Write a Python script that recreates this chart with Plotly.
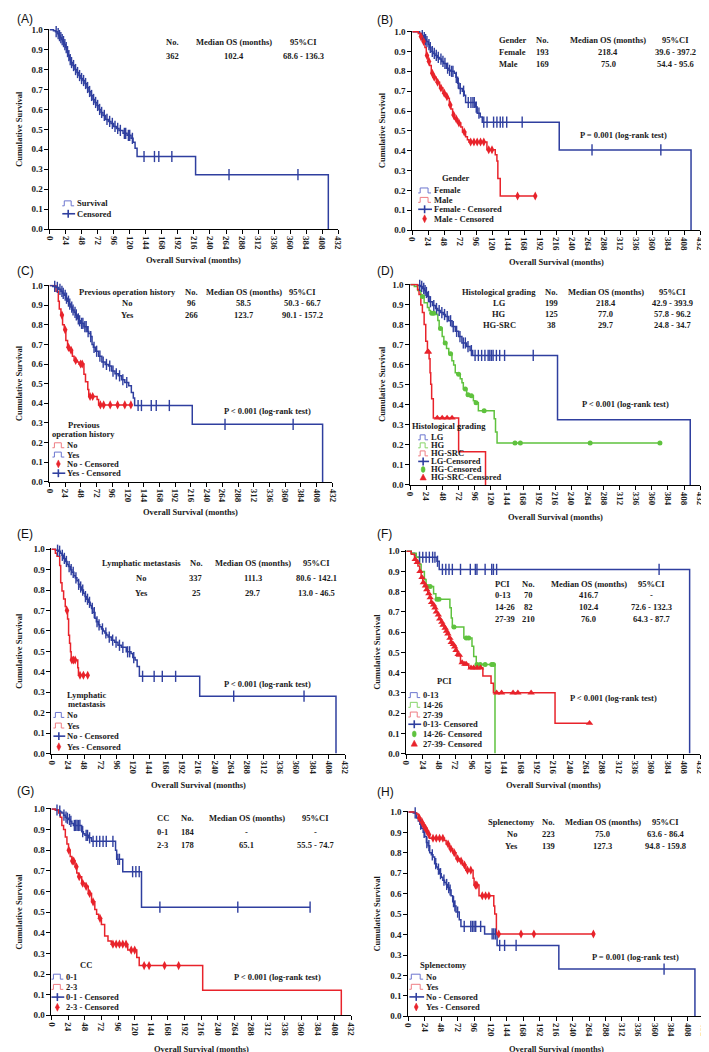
import plotly.graph_objects as go

W, H = 709, 1052
BLUE, RED, GREEN = '#2f3f9f', '#e8232b', '#5fc23e'
LBLUE, LRED, LGREEN = '#6c76cf', '#ee7d83', '#86d468'
SERIF = 'Liberation Serif'

# ---------------- axis ticks ----------------
X_TICKS = [0, 24, 48, 72, 96, 120, 144, 168, 192, 216, 240, 264, 288, 312, 336, 360, 384, 408, 432]
Y_TICKS = [0.0, 0.1, 0.2, 0.3, 0.4, 0.5, 0.6, 0.7, 0.8, 0.9, 1.0]
Y_LABELS = ['0.0', '0.1', '0.2', '0.3', '0.4', '0.5', '0.6', '0.7', '0.8', '0.9', '1.0']

# ---------------- (A) overall ----------------
A_time = [0, 6, 9, 12, 14, 16, 18, 20, 22, 24, 26, 28, 30, 32, 35, 38, 41, 44, 47, 50, 53, 56, 59, 62, 65, 68, 71, 74,
          77, 80, 84, 88, 92, 96, 100, 104, 110, 116, 122, 125, 128, 131, 218.5, 417]
A_surv = [1.0, 0.995, 0.99, 0.98, 0.97, 0.96, 0.95, 0.94, 0.925, 0.91, 0.89, 0.87, 0.85, 0.835, 0.82, 0.80, 0.785, 0.77,
          0.755, 0.745, 0.73, 0.71, 0.69, 0.67, 0.65, 0.635, 0.62, 0.60, 0.585, 0.57, 0.55, 0.54, 0.53, 0.515, 0.505,
          0.495, 0.48, 0.47, 0.455, 0.435, 0.405, 0.364, 0.273, 0.0]
A_cens = [10, 13, 15, 17, 19, 21, 23, 25, 27, 29, 31, 33, 36, 39, 42, 45, 48, 51, 54, 57, 60, 63, 66, 69, 72, 75, 78, 82,
          86, 90, 94, 98, 102, 106, 112, 114, 118, 120, 124, 141.4, 157, 163.5, 183, 268.5, 371.6]

# ---------------- (B) gender ----------------
B_female_time = [0, 11, 14, 17, 19, 21, 24, 26, 28, 31, 34, 38, 41, 44, 47, 51, 55, 58, 63, 65.5, 68, 70, 75, 78, 80,
                 95, 97.4, 102, 105, 220.5, 418.3]
B_female_surv = [1.0, 0.99, 0.98, 0.97, 0.96, 0.95, 0.935, 0.92, 0.90, 0.89, 0.88, 0.87, 0.862, 0.85, 0.84, 0.816,
                 0.805, 0.80, 0.79, 0.77, 0.74, 0.713, 0.70, 0.68, 0.643, 0.62, 0.589, 0.57, 0.544, 0.404, 0.0]
B_female_cens = [15, 18, 20, 22, 25, 27, 30, 33, 36, 39, 43, 46, 49, 53, 56, 59, 61, 66, 69, 72, 77, 84, 88, 91, 93, 96,
                 100, 107.3, 112.2, 122, 127, 132, 135.8, 141.7, 164.9, 269.7, 373]
B_male_time = [0, 9, 12, 14, 16, 19, 21, 23.6, 26, 28.5, 31, 36, 41, 46, 50.7, 54, 55.6, 58, 60.5, 63, 68, 72.8, 75.3,
               80, 82.7, 85, 112, 124.5, 127, 128.4, 132]
B_male_surv = [1.0, 0.99, 0.975, 0.96, 0.95, 0.92, 0.88, 0.85, 0.83, 0.79, 0.77, 0.745, 0.716, 0.69, 0.672, 0.665, 0.63,
               0.61, 0.58, 0.56, 0.54, 0.52, 0.494, 0.47, 0.455, 0.444, 0.405, 0.38, 0.348, 0.26, 0.172]
B_male_cens = [13, 17, 22, 25, 30, 33, 38, 43, 48, 52, 57, 62, 66, 70, 78, 87.6, 92.5, 97.4, 102.4, 107.3, 114.7, 119.6,
               158, 184.5]

# ---------------- (C) previous operation ----------------
C_no_time = [0, 10, 13.5, 15, 17.5, 20, 22.5, 25, 27.6, 30, 35, 37.6, 42.6, 45, 52.6, 55, 58.5, 60, 72.7, 75]
C_no_surv = [1.0, 0.97, 0.92, 0.88, 0.849, 0.80, 0.774, 0.72, 0.685, 0.67, 0.64, 0.618, 0.61, 0.60, 0.548, 0.51, 0.47,
             0.435, 0.42, 0.392]
C_no_cens = [19, 24, 29, 33, 40, 47.6, 50, 62, 66, 77.7, 82.7, 92.7, 104, 115, 124.3]
C_yes_time = [0, 5, 10, 14, 17.5, 20, 22.5, 25, 27.6, 30, 32.6, 35, 37.6, 40, 42.6, 45, 47.6, 52.6, 57.6, 60, 62.6, 65,
              67, 70, 75, 80, 85, 90, 95, 100, 105, 110, 115, 121, 125, 128, 130, 218, 417]
C_yes_surv = [1.0, 0.995, 0.99, 0.98, 0.97, 0.96, 0.95, 0.935, 0.92, 0.905, 0.89, 0.875, 0.863, 0.85, 0.83, 0.82, 0.807,
              0.79, 0.765, 0.755, 0.74, 0.70, 0.685, 0.665, 0.64, 0.61, 0.598, 0.59, 0.564, 0.55, 0.54, 0.52, 0.506,
              0.49, 0.455, 0.427, 0.389, 0.293, 0.0]
C_yes_cens = [8, 12, 16, 19, 21, 24, 26, 29, 31, 34, 36, 39, 41, 44, 46, 49, 51, 54, 56, 59, 63, 68, 72, 77, 82, 87, 92,
              97, 102, 107, 112, 118, 135.3, 140.4, 155.4, 163, 183, 268, 372]

# ---------------- (D) histological grading ----------------
D_lg_time = [0, 10.8, 15, 18, 21, 23, 25.5, 28, 33, 37.7, 41, 45, 49, 52.4, 57.3, 62.2, 67, 72, 76.9, 84, 89, 93,
             219.4, 417.2]
D_lg_surv = [1.0, 0.995, 0.99, 0.98, 0.97, 0.96, 0.94, 0.914, 0.895, 0.88, 0.87, 0.86, 0.85, 0.84, 0.819, 0.79, 0.766,
             0.74, 0.708, 0.69, 0.67, 0.646, 0.325, 0.0]
D_lg_cens = [14, 17, 20, 22, 24, 27, 30, 35, 39, 43, 47, 51, 55, 60, 64, 69, 74, 79, 82, 86, 91, 96.5, 101.4, 106.3,
             111.2, 116, 118.5, 121, 123.4, 128.3, 133.2, 140.5, 183.2]
D_hg_time = [0, 6, 11, 15.7, 20.6, 25.5, 28, 30, 39, 41, 43, 47.5, 50, 54, 57.3, 62, 64.6, 67, 69.5, 74.4, 77, 79, 84,
             89, 94, 96.5, 101.4, 125, 127, 129.3]
D_hg_surv = [1.0, 0.99, 0.97, 0.94, 0.909, 0.885, 0.87, 0.857, 0.85, 0.82, 0.78, 0.74, 0.708, 0.68, 0.654, 0.62, 0.598,
             0.56, 0.552, 0.53, 0.51, 0.478, 0.45, 0.445, 0.42, 0.41, 0.37, 0.33, 0.264, 0.209]
D_hg_cens = [18, 32, 35, 45, 52, 60, 72, 82, 86, 91, 98, 110, 156, 164, 268, 372]
D_src_time = [0, 10.8, 13, 15.7, 18, 20.6, 23, 25.5, 28, 29.4, 30.4, 31.8, 34.3, 72, 112.1]
D_src_surv = [1.0, 0.975, 0.95, 0.898, 0.86, 0.80, 0.717, 0.664, 0.63, 0.56, 0.502, 0.43, 0.334, 0.165, 0.0]
D_src_cens = [26, 27, 40.2, 47.5, 54.8, 62.2]

# ---------------- (E) lymphatic metastasis ----------------
E_no_time = [0, 5.8, 10.7, 13, 15.5, 18, 20.3, 23, 25, 28, 30, 33, 35, 37.5, 39.7, 42, 44.5, 47, 49.4, 52, 54.2, 57, 59,
             61, 64, 66, 68.8, 71, 73.6, 76, 78.5, 81, 83.3, 88, 93, 97.8, 102.7, 110, 117, 119.6, 123, 126, 129.3, 218,
             418.4]
E_no_surv = [1.0, 0.995, 0.99, 0.98, 0.97, 0.955, 0.94, 0.925, 0.915, 0.90, 0.887, 0.87, 0.86, 0.845, 0.828, 0.815,
             0.80, 0.785, 0.768, 0.755, 0.74, 0.725, 0.71, 0.69, 0.662, 0.645, 0.63, 0.62, 0.61, 0.60, 0.59, 0.58, 0.57,
             0.555, 0.545, 0.53, 0.52, 0.498, 0.49, 0.47, 0.458, 0.426, 0.378, 0.281, 0.0]
E_no_cens = [9, 12, 16, 19, 22, 26, 29, 32, 36, 40, 43, 46, 50, 53, 56, 60, 63, 67, 70, 75, 80, 85, 90, 95, 100, 105,
             112, 115, 121, 134, 151, 163, 182.6, 268, 371.4]
E_yes_time = [0, 5.8, 8.2, 12.1, 13.6, 15.5, 17.9, 20.3, 21.8, 23.7, 25.2, 26.6, 28, 29, 38.7, 39.7]
E_yes_surv = [1.0, 0.98, 0.965, 0.92, 0.836, 0.796, 0.756, 0.72, 0.70, 0.659, 0.579, 0.54, 0.498, 0.458, 0.42, 0.383]
E_yes_cens = [22.8, 30, 32.4, 34.9, 42, 47, 53.3]

# ---------------- (F) PCI ----------------
F_low_time = [0, 7.2, 12, 14.5, 45, 48.3, 416.5]
F_low_surv = [1.0, 0.99, 0.98, 0.97, 0.95, 0.91, 0.0]
F_low_cens = [19.3, 24.1, 29, 33.8, 38.6, 42, 45.8, 53, 58, 62.7, 67.6, 79.6, 94, 101.4, 103.8, 115.8, 125.5, 128,
              132.7, 371.6]
F_mid_time = [0, 7.2, 14.5, 19.3, 21.7, 26.5, 29, 40, 43.4, 64, 66, 67.6, 84.5, 96.5, 99, 102.8, 130.3]
F_mid_surv = [1.0, 0.99, 0.97, 0.935, 0.90, 0.86, 0.825, 0.79, 0.763, 0.72, 0.67, 0.625, 0.571, 0.53, 0.48, 0.44, 0.0]
F_mid_cens = [31, 35, 45, 48, 70, 88, 91.7, 103.8, 108.6, 115.8, 125.5, 128]
F_high_time = [0, 7.2, 12, 14.5, 17, 19.5, 21.7, 24, 26.5, 29, 31.4, 34, 36.2, 38.5, 41, 43.5, 45.8, 48, 50.7, 53, 55.5,
               58, 60.3, 62.5, 65, 67.5, 70, 72.5, 74.8, 77.2, 79.6, 84.5, 91.7, 112.5, 124.5, 128, 218.6]
F_high_surv = [1.0, 0.985, 0.96, 0.945, 0.927, 0.90, 0.87, 0.845, 0.829, 0.81, 0.79, 0.77, 0.747, 0.735, 0.72, 0.70,
               0.685, 0.665, 0.649, 0.635, 0.62, 0.605, 0.592, 0.57, 0.55, 0.54, 0.527, 0.51, 0.49, 0.486, 0.45, 0.442,
               0.424, 0.383, 0.347, 0.30, 0.15]
F_high_cens = [13, 16, 20, 23, 25, 28, 30, 33, 35, 37, 40, 42, 44, 47, 49, 52, 54, 57, 59, 61, 64, 66, 69, 71, 73, 76,
               78, 82, 86, 88, 95, 99, 104, 109, 132.7, 140, 156.9, 164, 183.4, 269.3]

# ---------------- (G) CC ----------------
G_01_time = [0, 5.7, 10.4, 13, 15, 17.5, 19.9, 22, 24.6, 27, 29.4, 31.7, 43.6, 46, 48.3, 53, 57.8, 92.4, 94, 102.8,
             129.8]
G_01_surv = [1.0, 0.995, 0.99, 0.985, 0.98, 0.97, 0.96, 0.955, 0.949, 0.94, 0.93, 0.92, 0.89, 0.88, 0.872, 0.86, 0.843,
             0.80, 0.756, 0.696, 0.524]
G_01_cens = [8, 12, 18, 21, 23, 26, 28, 33, 35, 37, 39, 41, 45, 50, 52, 55, 60, 65, 69.6, 74.4, 79, 88.6, 95.7, 98, 117,
             121.7, 126.5, 156.3, 268.6, 372.8]
G_23_time = [0, 5.7, 10.4, 12.8, 15, 17.5, 20, 22.3, 24.6, 27, 29.4, 34, 36.5, 38.8, 43.6, 48.3, 53, 57.8, 62.5, 65.1,
             68, 72, 76.7, 81.5, 86.2, 110, 123, 126.5, 218, 417.8]
G_23_surv = [1.0, 0.995, 0.98, 0.96, 0.92, 0.90, 0.864, 0.83, 0.80, 0.77, 0.748, 0.72, 0.69, 0.672, 0.64, 0.625, 0.59,
             0.55, 0.513, 0.49, 0.47, 0.44, 0.385, 0.36, 0.345, 0.316, 0.28, 0.241, 0.121, 0.0]
G_23_cens = [25, 30, 32, 36, 40, 45, 50, 55, 60, 70, 88.6, 93.3, 98, 102.8, 107.5, 115, 120, 133.6, 140.7, 163, 183.3]

# ---------------- (H) splenectomy ----------------
H_no_time = [0, 7.2, 12, 14.5, 16.8, 19, 21.6, 24, 26.4, 28.8, 31.2, 33.5, 36, 38.4, 41, 43.2, 45.6, 48, 50.4, 53,
             55.2, 57.5, 60, 62.4, 64.8, 67.2, 69.6, 74.4, 76.8, 111.4, 129.6, 219.8, 418.6]
H_no_surv = [1.0, 0.995, 0.97, 0.955, 0.94, 0.92, 0.90, 0.88, 0.85, 0.835, 0.80, 0.79, 0.78, 0.747, 0.73, 0.72, 0.698,
             0.68, 0.666, 0.655, 0.645, 0.63, 0.618, 0.59, 0.561, 0.54, 0.51, 0.473, 0.44, 0.403, 0.347, 0.231, 0.0]
H_no_cens = [10, 18, 23, 27, 30, 35, 40, 44, 47, 52, 56, 59, 61, 66, 68, 72, 81.6, 91.2, 93.6, 96, 98.4, 105.6, 122.4,
             124.8, 127.2, 133.4, 140.6, 157.4, 373.5]
H_yes_time = [0, 9.6, 12, 14.4, 18.2, 21.6, 24, 26.4, 28.8, 31.2, 52.8, 55.2, 60, 64.8, 69.6, 74.4, 79.2, 84, 94.6, 96,
              103.2, 124.8, 126.2, 128.6]
H_yes_surv = [1.0, 0.995, 0.99, 0.97, 0.95, 0.93, 0.92, 0.908, 0.89, 0.871, 0.86, 0.843, 0.82, 0.80, 0.771, 0.76, 0.74,
              0.715, 0.675, 0.642, 0.59, 0.54, 0.50, 0.403]
H_yes_cens = [16, 20, 23, 25, 27, 30, 36, 40.8, 45.6, 50.4, 58, 62, 67, 72, 77, 82, 86.4, 91.2, 98, 100, 108, 112.8,
              117.6, 132, 164.6, 183.4, 270.3]

# ---------------- tables ----------------
A_header = ['No.', 'Median OS (months)', '95%CI']
A_rows = [['362', '102.4', '68.6 - 136.3']]
B_header = ['Gender', 'No.', 'Median OS (months)', '95%CI']
B_rows = [['Female', '193', '218.4', '39.6 - 397.2'], ['Male', '169', '75.0', '54.4 - 95.6']]
C_header = ['Previous operation history', 'No.', 'Median OS (months)', '95%CI']
C_rows = [['No', '96', '58.5', '50.3 - 66.7'], ['Yes', '266', '123.7', '90.1 - 157.2']]
D_header = ['Histological grading', 'No.', 'Median OS (months)', '95%CI']
D_rows = [['LG', '199', '218.4', '42.9 - 393.9'], ['HG', '125', '77.0', '57.8 - 96.2'],
          ['HG-SRC', '38', '29.7', '24.8 - 34.7']]
E_header = ['Lymphatic metastasis', 'No.', 'Median OS (months)', '95%CI']
E_rows = [['No', '337', '111.3', '80.6 - 142.1'], ['Yes', '25', '29.7', '13.0 - 46.5']]
F_header = ['PCI', 'No.', 'Median OS (months)', '95%CI']
F_rows = [['0-13', '70', '416.7', '-'], ['14-26', '82', '102.4', '72.6 - 132.3'], ['27-39', '210', '76.0', '64.3 - 87.7']]
G_header = ['CC', 'No.', 'Median OS (months)', '95%CI']
G_rows = [['0-1', '184', '-', '-'], ['2-3', '178', '65.1', '55.5 - 74.7']]
H_header = ['Splenectomy', 'No.', 'Median OS (months)', '95%CI']
H_rows = [['No', '223', '75.0', '63.6 - 86.4'], ['Yes', '139', '127.3', '94.8 - 159.8']]

P_texts = {'B': 'P = 0.001 (log-rank test)', 'C': 'P < 0.001 (log-rank test)', 'D': 'P < 0.001 (log-rank test)',
           'E': 'P < 0.001 (log-rank test)', 'F': 'P < 0.001 (log-rank test)', 'G': 'P < 0.001 (log-rank test)',
           'H': 'P = 0.001 (log-rank test)'}


def surv_at(times, survs, t):
    v = survs[0]
    for ti, si in zip(times, survs):
        if ti <= t:
            v = si
    return v


# marker styles
MK = {
    'plus': dict(symbol='line-ns-open', size=8, color=BLUE, line=dict(color=BLUE, width=1.4)),
    'diamond': dict(symbol='diamond-tall', size=6.5, color=RED, line=dict(width=0)),
    'circle': dict(symbol='circle', size=5, color=GREEN, line=dict(width=0)),
    'triangle': dict(symbol='triangle-up', size=6.5, color=RED, line=dict(width=0)),
}
LIGHT = {BLUE: LBLUE, RED: LRED, GREEN: LGREEN}

# panel layout (pixel boxes: x0, x1, ytop, ybottom)
panels = [
    dict(key='A', box=(37, 330, 17, 219), label_xy=(2, 7), ytitle_x=6, xtitle_y=250,
         curves=[('Survival', A_time, A_surv, A_cens, BLUE, 'plus')],
         legend=dict(icon_x=50, text_x=63, y0=193, dy=10.5, title=[], title_x=0, title_y=[]),
         leg_items=[('Survival', BLUE, 'line'), ('Censored', BLUE, 'plus')],
         header=A_header, rows=A_rows, cols=[(162, 'center'), (224, 'center'), (295, 'center')], hy=30, ry=[44],
         p=None),
    dict(key='B', box=(405, 697, 19, 220), label_xy=(367, 8), ytitle_x=375, xtitle_y=252,
         curves=[('Female', B_female_time, B_female_surv, B_female_cens, BLUE, 'plus'),
                 ('Male', B_male_time, B_male_surv, B_male_cens, RED, 'diamond')],
         legend=dict(icon_x=411, text_x=425, y0=180, dy=9.5, title=['Gender'], title_x=449, title_y=[167]),
         leg_items=[('Female', BLUE, 'line'), ('Male', RED, 'line'), ('Female - Censored', BLUE, 'plus'),
                    ('Male - Censored', RED, 'diamond')],
         header=B_header, rows=B_rows, cols=[(491, 'left'), (537, 'center'), (604, 'center'), (672, 'center')],
         hy=28, ry=[40, 52], p=(619, 124)),
    dict(key='C', box=(37, 324, 275, 474), label_xy=(2, 261), ytitle_x=6, xtitle_y=504,
         curves=[('No', C_no_time, C_no_surv, C_no_cens, RED, 'diamond'),
                 ('Yes', C_yes_time, C_yes_surv, C_yes_cens, BLUE, 'plus')],
         legend=dict(icon_x=40, text_x=53, y0=437, dy=9.4, title=['Previous', 'operation history'], title_x=72,
                     title_y=[417, 426]),
         leg_items=[('No', RED, 'line'), ('Yes', BLUE, 'line'), ('No - Censored', RED, 'diamond'),
                    ('Yes - Censored', BLUE, 'plus')],
         header=C_header, rows=C_rows, cols=[(116, 'center'), (181, 'center'), (234, 'center'), (294, 'center')],
         hy=282, ry=[294, 306], p=(258, 402)),
    dict(key='D', box=(403, 697, 274, 477), label_xy=(367, 261), ytitle_x=375, xtitle_y=509,
         curves=[('LG', D_lg_time, D_lg_surv, D_lg_cens, BLUE, 'plus'),
                 ('HG', D_hg_time, D_hg_surv, D_hg_cens, GREEN, 'circle'),
                 ('HG-SRC', D_src_time, D_src_surv, D_src_cens, RED, 'triangle')],
         legend=dict(icon_x=411, text_x=422, y0=429, dy=8.1, title=['Histological grading'], title_x=442,
                     title_y=[418]),
         leg_items=[('LG', BLUE, 'line'), ('HG', GREEN, 'line'), ('HG-SRC', RED, 'line'),
                    ('LG-Censored', BLUE, 'plus'), ('HG-Censored', GREEN, 'circle'),
                    ('HG-SRC-Censored', RED, 'triangle')],
         header=D_header, rows=D_rows, cols=[(493, 'center'), (546, 'center'), (601, 'center'), (669, 'center')],
         hy=282, ry=[294, 305, 316], p=(621, 395)),
    dict(key='E', box=(39, 337, 541, 748), label_xy=(2, 526), ytitle_x=6, xtitle_y=780,
         curves=[('No', E_no_time, E_no_surv, E_no_cens, BLUE, 'plus'),
                 ('Yes', E_yes_time, E_yes_surv, E_yes_cens, RED, 'diamond')],
         legend=dict(icon_x=41, text_x=53, y0=709, dy=10.7, title=['Lymphatic', 'metastasis'], title_x=75,
                     title_y=[689, 698]),
         leg_items=[('No', BLUE, 'line'), ('Yes', RED, 'line'), ('No - Censored', BLUE, 'plus'),
                    ('Yes - Censored', RED, 'diamond')],
         header=E_header, rows=E_rows, cols=[(130, 'center'), (186, 'center'), (243, 'center'), (308, 'center')],
         hy=556, ry=[571, 586], p=(258, 678)),
    dict(key='F', box=(399, 697, 543, 748), label_xy=(367, 526), ytitle_x=369, xtitle_y=780,
         curves=[('0-13', F_low_time, F_low_surv, F_low_cens, BLUE, 'plus'),
                 ('14-26', F_mid_time, F_mid_surv, F_mid_cens, GREEN, 'circle'),
                 ('27-39', F_high_time, F_high_surv, F_high_cens, RED, 'triangle')],
         legend=dict(icon_x=401, text_x=414, y0=689, dy=9.8, title=['PCI'], title_x=438, title_y=[675]),
         leg_items=[('0-13', BLUE, 'line'), ('14-26', GREEN, 'line'), ('27-39', RED, 'line'),
                    ('0-13- Censored', BLUE, 'plus'), ('14-26- Censored', GREEN, 'circle'),
                    ('27-39- Censored', RED, 'triangle')],
         header=F_header, rows=F_rows, cols=[(487, 'left'), (523, 'center'), (584, 'center'), (648, 'center')],
         hy=577, ry=[588, 600, 612], p=(609, 692)),
    dict(key='G', box=(39, 343, 803, 1012), label_xy=(2, 786), ytitle_x=6, xtitle_y=1046,
         curves=[('0-1', G_01_time, G_01_surv, G_01_cens, BLUE, 'plus'),
                 ('2-3', G_23_time, G_23_surv, G_23_cens, RED, 'diamond')],
         legend=dict(icon_x=39, text_x=52, y0=973, dy=10.3, title=['CC'], title_x=74, title_y=[961]),
         leg_items=[('0-1', BLUE, 'line'), ('2-3', RED, 'line'), ('0-1 - Censored', BLUE, 'plus'),
                    ('2-3 - Censored', RED, 'diamond')],
         header=G_header, rows=G_rows, cols=[(152, 'center'), (177, 'center'), (237, 'center'), (307, 'center')],
         hy=813, ry=[827, 840], p=(268, 973)),
    dict(key='H', box=(401, 701, 806, 1013), label_xy=(367, 787), ytitle_x=369, xtitle_y=1046,
         curves=[('No', H_no_time, H_no_surv, H_no_cens, BLUE, 'plus'),
                 ('Yes', H_yes_time, H_yes_surv, H_yes_cens, RED, 'diamond')],
         legend=dict(icon_x=402, text_x=417, y0=973, dy=10.2, title=['Splenectomy'], title_x=437, title_y=[961]),
         leg_items=[('No', BLUE, 'line'), ('Yes', RED, 'line'), ('No - Censored', BLUE, 'plus'),
                    ('Yes - Censored', RED, 'diamond')],
         header=H_header, rows=H_rows, cols=[(506, 'center'), (543, 'center'), (598, 'center'), (662, 'center')],
         hy=817, ry=[829, 841], p=(631, 953)),
]


def px(x):
    return x / W


def py(y):
    return 1 - y / H


fig = go.Figure()
annotations = []
shapes = []
TXT = dict(family=SERIF, size=8.5, color='#1a1a1a', weight='bold')
TICK = dict(family=SERIF, size=9, color='#1a1a1a', weight='bold')


def ann(x, y, text, xanchor='center', font=None, angle=0):
    annotations.append(dict(x=px(x), y=py(y), xref='paper', yref='paper', text=text, showarrow=False,
                            xanchor=xanchor, yanchor='middle', font=font or TXT, textangle=angle))


for i, p in enumerate(panels):
    n = '' if i == 0 else str(i + 1)
    xa, ya = 'x' + n, 'y' + n
    x0, x1, yt, yb = p['box']
    fig.update_layout(**{
        'xaxis' + n: dict(domain=[px(x0), px(x1)], anchor=ya, range=[0, 432], tickvals=X_TICKS,
                          ticktext=[str(v) for v in X_TICKS], tickangle=90, ticks='outside', ticklen=4,
                          tickwidth=1, tickcolor='black', showline=True, linecolor='black', linewidth=1,
                          showgrid=False, zeroline=False, tickfont=TICK, fixedrange=True),
        'yaxis' + n: dict(domain=[py(yb), py(yt)], anchor=xa, range=[0, 1.004], tickvals=Y_TICKS,
                          ticktext=Y_LABELS, ticks='outside', ticklen=4, tickwidth=1, tickcolor='black',
                          showline=True, linecolor='black', linewidth=1, showgrid=False, zeroline=False,
                          tickfont=TICK, fixedrange=True),
    })
    # curves
    for name, t, s, c, col, mk in p['curves']:
        tx, sy = list(t), list(s)
        if c and max(c) > tx[-1] and sy[-1] > 0:
            tx.append(max(c))
            sy.append(sy[-1])
        fig.add_trace(go.Scatter(x=tx, y=sy, mode='lines', line=dict(color=col, width=1.5, shape='hv'),
                                 xaxis=xa, yaxis=ya, showlegend=False, name=name, hoverinfo='skip'))
    for name, t, s, c, col, mk in p['curves']:
        cy = [surv_at(t, s, v) for v in c]
        fig.add_trace(go.Scatter(x=c, y=cy, mode='markers', marker=MK[mk], xaxis=xa, yaxis=ya,
                                 showlegend=False, name=name + ' - Censored', cliponaxis=False, hoverinfo='skip'))
    # panel label
    ann(p['label_xy'][0], p['label_xy'][1], '(' + p['key'] + ')', xanchor='left',
        font=dict(family='Liberation Sans', size=12, color='#111'))
    # axis titles
    ann(p['ytitle_x'], (yt + yb) / 2, 'Cumulative Survival', angle=-90)
    ann((x0 + x1) / 2, p['xtitle_y'], 'Overall Survival (months)')
    # table
    for (cx, al), htxt in zip(p['cols'][-len(p['header']):], p['header']):
        ann(cx, p['hy'], htxt, xanchor=al)
    for ry, row in zip(p['ry'], p['rows']):
        for (cx, al), cell in zip(p['cols'][-len(row):], row):
            ann(cx, ry, cell, xanchor=al)
    if p['p']:
        ann(p['p'][0], p['p'][1], P_texts[p['key']])
    # legend
    L = p['legend']
    for ty, tt in zip(L['title_y'], L['title']):
        ann(L['title_x'], ty, tt)
    for k, (lab, col, kind) in enumerate(p['leg_items']):
        cy = L['y0'] + k * L['dy']
        ix = L['icon_x']
        iw = L['text_x'] - ix - 1
        ann(L['text_x'], cy, lab, xanchor='left')
        if kind == 'line':
            lc = LIGHT[col]
            path = 'M {a},{b} L {c},{b} L {c},{d} L {e},{d} L {e},{b} L {f},{b}'.format(
                a=px(ix), b=py(cy + 2.5), c=px(ix + 2), d=py(cy - 2.5), e=px(ix + iw - 3), f=px(ix + iw))
            shapes.append(dict(type='path', path=path, xref='paper', yref='paper',
                               line=dict(color=lc, width=1)))
        elif kind == 'plus':
            shapes.append(dict(type='line', xref='paper', yref='paper', x0=px(ix), x1=px(ix + iw + 1),
                               y0=py(cy), y1=py(cy), line=dict(color=col, width=1.6)))
            shapes.append(dict(type='line', xref='paper', yref='paper', x0=px(ix + iw / 2), x1=px(ix + iw / 2),
                               y0=py(cy - 4), y1=py(cy + 4), line=dict(color=col, width=1.6)))
        elif kind == 'diamond':
            mx = ix + iw / 2
            path = 'M {a},{b} L {c},{d} L {a},{e} L {f},{d} Z'.format(
                a=px(mx), b=py(cy - 4), c=px(mx + 2), d=py(cy), e=py(cy + 4), f=px(mx - 2))
            shapes.append(dict(type='path', path=path, xref='paper', yref='paper', fillcolor=col,
                               line=dict(color=col, width=0.5)))
        elif kind == 'circle':
            mx = ix + iw / 2
            shapes.append(dict(type='circle', xref='paper', yref='paper', x0=px(mx - 2), x1=px(mx + 2),
                               y0=py(cy + 3), y1=py(cy - 3), fillcolor=col, line=dict(color=col, width=0.5)))
        elif kind == 'triangle':
            mx = ix + iw / 2
            path = 'M {a},{b} L {c},{d} L {e},{d} Z'.format(
                a=px(mx), b=py(cy - 3.5), c=px(mx + 3.2), d=py(cy + 2.5), e=px(mx - 3.2))
            shapes.append(dict(type='path', path=path, xref='paper', yref='paper', fillcolor=col,
                               line=dict(color=col, width=0.5)))

fig.update_layout(width=W, height=H, margin=dict(l=0, r=0, t=0, b=0), paper_bgcolor='white',
                  plot_bgcolor='white', showlegend=False, annotations=annotations, shapes=shapes)
fig.write_html('out.html')
